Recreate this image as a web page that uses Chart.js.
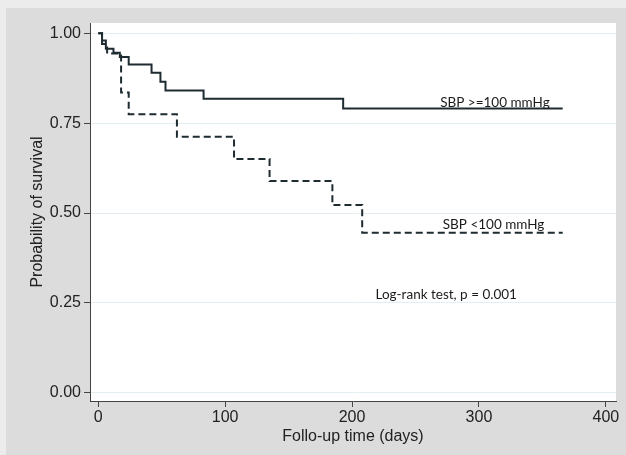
<!DOCTYPE html>
<html>
<head>
<meta charset="utf-8">
<script src="https://cdn.jsdelivr.net/npm/chart.js@4"></script>
<style>
html,body{margin:0;padding:0;background:#dedede;}
canvas{display:block;}
</style>
</head>
<body>
<canvas id="c" width="626" height="455"></canvas>
<script>
// Kaplan-Meier estimates
const timesHigh = [0, 3, 6, 12, 17, 24, 42, 49, 53, 83, 193, 366];
const survHigh  = [1.0, 0.98, 0.957, 0.946, 0.934, 0.913, 0.890, 0.865, 0.841, 0.818, 0.791, 0.791];
const timesLow  = [0, 3, 7, 18, 24, 62, 107, 135, 184.5, 208, 366];
const survLow   = [1.0, 0.97, 0.944, 0.835, 0.775, 0.712, 0.650, 0.589, 0.522, 0.445, 0.445];
const xTicks = [0, 100, 200, 300, 400];
const yTicks = [0, 0.25, 0.5, 0.75, 1.0];
const labelHigh = 'SBP >=100 mmHg';
const labelLow = 'SBP <100 mmHg';
const testLabel = 'Log-rank test, p = 0.001';

const toPoints = (t, s) => t.map((x, i) => ({x: x, y: s[i]}));
const lineColor = '#1e2b31';

const annotations = [
  {text: labelHigh, x: 269.5, y: 0.808},
  {text: labelLow, x: 271.5, y: 0.468},
  {text: testLabel, x: 218.5, y: 0.273}
];

const bgPlugin = {
  id: 'bg',
  beforeDraw(chart) {
    const ctx = chart.ctx, a = chart.chartArea;
    ctx.save();
    ctx.fillStyle = '#ececec';
    ctx.fillRect(0, 0, chart.width, chart.height);
    ctx.fillStyle = '#dcdcdc';
    ctx.fillRect(6, 8, chart.width - 6, chart.height - 8);
    ctx.fillStyle = '#ffffff';
    ctx.fillRect(a.left, a.top, a.right - a.left, a.bottom - a.top);
    ctx.restore();
  },
  afterDatasetsDraw(chart) {
    const ctx = chart.ctx, xs = chart.scales.x, ys = chart.scales.y;
    ctx.save();
    ctx.fillStyle = '#1a1a1a';
    ctx.font = '13.5px Lato';
    ctx.textAlign = 'left';
    ctx.textBaseline = 'middle';
    annotations.forEach(a => ctx.fillText(a.text, xs.getPixelForValue(a.x), ys.getPixelForValue(a.y)));
    ctx.restore();
  }
};

new Chart(document.getElementById('c'), {
  type: 'line',
  data: {
    datasets: [
      {label: labelHigh, data: toPoints(timesHigh, survHigh), stepped: true, borderColor: lineColor, borderWidth: 2, pointRadius: 0, fill: false},
      {label: labelLow, data: toPoints(timesLow, survLow), stepped: true, borderColor: lineColor, borderWidth: 2, borderDash: [7, 4], pointRadius: 0, fill: false}
    ]
  },
  options: {
    responsive: false,
    animation: false,
    devicePixelRatio: 1,
    layout: {padding: {left: 0, right: 10, top: 23, bottom: 0}},
    plugins: {legend: {display: false}, tooltip: {enabled: false}},
    scales: {
      x: {
        type: 'linear', min: -6.5, max: 408,
        afterBuildTicks: s => { s.ticks = xTicks.map(v => ({value: v})); },
        afterFit: s => { s.height = 54; },
        ticks: {color: '#222', font: {family: 'Liberation Sans', size: 16}, padding: 1, maxRotation: 0, callback: v => String(v)},
        grid: {drawOnChartArea: false, drawTicks: true, tickLength: 6, tickColor: '#444'},
        border: {display: true, color: '#444', width: 1},
        title: {display: true, text: 'Follo-up time (days)', color: '#222', font: {family: 'Liberation Sans', size: 16}, padding: {top: 0, bottom: 9}}
      },
      y: {
        type: 'linear', min: -0.023, max: 1.0286,
        afterBuildTicks: s => { s.ticks = yTicks.map(v => ({value: v})); },
        afterFit: s => { s.width = 90; },
        ticks: {color: '#222', font: {family: 'Liberation Sans', size: 16}, padding: 3, callback: v => Number(v).toFixed(2)},
        grid: {drawOnChartArea: true, color: '#e4eef2', lineWidth: 1, drawTicks: true, tickLength: 6, tickColor: '#444'},
        border: {display: true, color: '#444', width: 1},
        title: {display: true, text: 'Probability of survival', color: '#222', font: {family: 'Liberation Sans', size: 16}, padding: {top: 28, bottom: 0}}
      }
    }
  },
  plugins: [bgPlugin]
});
</script>
</body>
</html>
